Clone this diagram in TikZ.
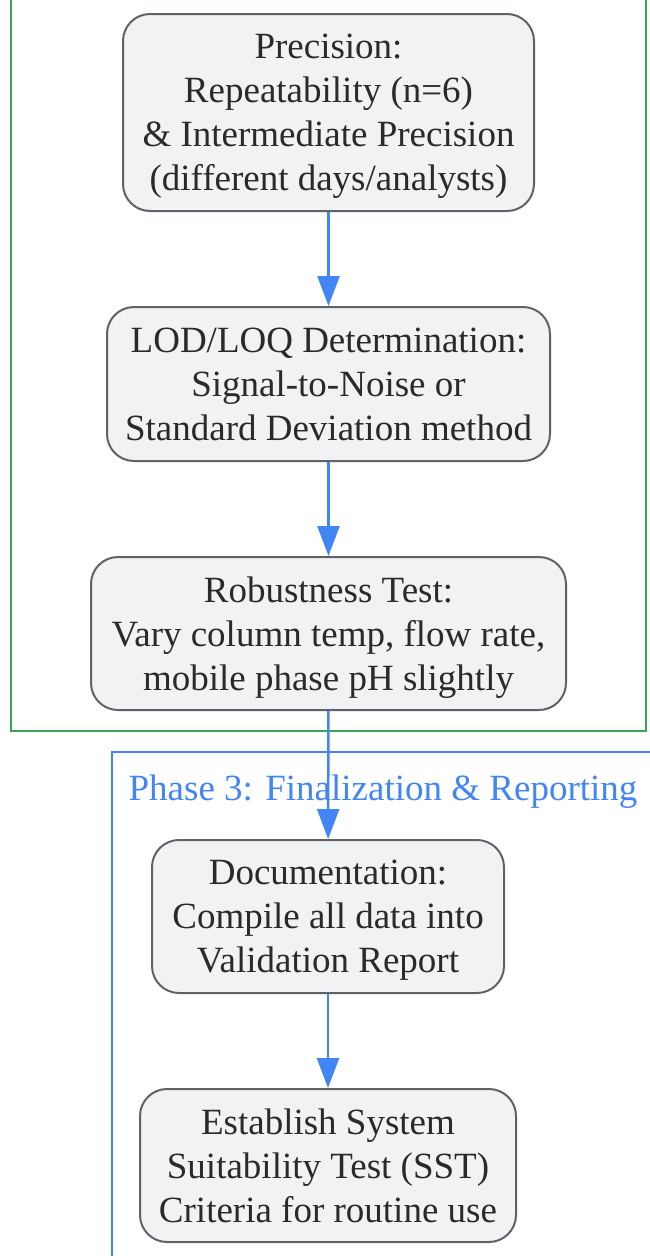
\documentclass[tikz,border=0pt]{standalone}
\usepackage{fontspec}
\setmainfont{Liberation Serif}
\usetikzlibrary{arrows.meta}
\definecolor{boxfill}{HTML}{F1F2F4}
\definecolor{boxline}{HTML}{5F6368}
\definecolor{boxtext}{HTML}{2A2A2A}
\definecolor{flowblue}{HTML}{4285F4}
\definecolor{phasegreen}{HTML}{34A853}
\begin{document}
\begin{tikzpicture}[x=1pt, y=-1pt,
    stepbox/.style={draw=boxline, fill=boxfill, line width=2pt, rounded corners=27pt,
        align=center, text=boxtext, inner sep=0pt, text depth=-4pt,
        font=\fontsize{37}{44}\selectfont},
    flow/.style={draw=flowblue, line width=2.5pt, -{Triangle[length=30pt,width=22pt]}},
    phaselabel/.style={text=flowblue, font=\fontsize{37}{44}\selectfont}]
        \useasboundingbox (0,0) rectangle (650,1256);
        %Phase 2 frame (open at the top)
        \draw[phasegreen, line width=2.5pt] (11,-5) -- (11,731) -- (646,731) -- (646,-5);
        %Phase 3 frame (runs off the page)
        \draw[flowblue, line width=2.5pt] (112,1260) -- (112,752) -- (655,752);
        \node[phaselabel, anchor=base] (ph3) at (383,800) {Phase 3: Finalization \& Reporting};

        %Precision
        \node[stepbox, minimum width=411pt, minimum height=197pt] (prec) at (328.5,112.5)
            {Precision:\\Repeatability (n=6)\\\& Intermediate Precision\\(different days/analysts)};
        %LOD/LOQ
        \node[stepbox, minimum width=443pt, minimum height=154pt] (lod) at (328.5,384)
            {LOD/LOQ Determination:\\Signal-to-Noise or\\Standard Deviation method};
        %Robustness
        \node[stepbox, minimum width=475pt, minimum height=153pt] (robust) at (328.5,633.5)
            {Robustness Test:\\Vary column temp, flow rate,\\mobile phase pH slightly};
        %Documentation
        \node[stepbox, minimum width=352pt, minimum height=153pt] (docu) at (328,916.5)
            {Documentation:\\Compile all data into\\Validation Report};
        %SST
        \node[stepbox, minimum width=376pt, minimum height=153pt] (sst) at (328,1165.5)
            {Establish System\\Suitability Test (SST)\\Criteria for routine use};

        \draw[flow] (prec) -- (lod);
        \draw[flow] (lod) -- (robust);
        \draw[flow] (robust) -- (docu);
        \draw[flow] (docu) -- (sst);
    \end{tikzpicture}
\end{document}
